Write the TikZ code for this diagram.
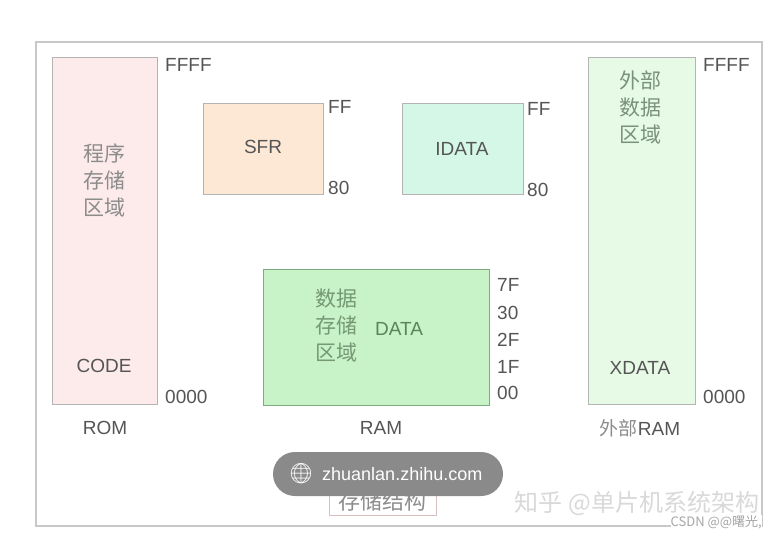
\documentclass[tikz,border=0pt]{standalone}
\usepackage{fontspec}
\setmainfont{Liberation Sans}
\newfontfamily\cjk{Noto Sans CJK SC}
\newfontfamily\emo{Noto Emoji}
\definecolor{labc}{HTML}{555555}
\definecolor{cjkc}{HTML}{8C8C8C}
\definecolor{framec}{HTML}{C8C8C8}
\definecolor{boxc}{HTML}{B4B4B4}
\definecolor{romf}{HTML}{FDEAEB}
\definecolor{sfrf}{HTML}{FDE8D6}
\definecolor{idataf}{HTML}{D4F7E8}
\definecolor{dataf}{HTML}{C8F2C8}
\definecolor{xdataf}{HTML}{E6FAE6}
\definecolor{pillf}{HTML}{8A8A8A}
\begin{document}
\begin{tikzpicture}[x=1pt,y=-1pt,
  membox/.style={draw=boxc, line width=1pt, inner sep=0, outer sep=0},
  lbl/.style={font=\fontsize{19}{19}\selectfont, text=labc, inner sep=0},
  cjklbl/.style={font=\cjk\fontsize{21}{27}\selectfont, text=cjkc, inner sep=0, align=center},
  inlbl/.style={font=\fontsize{19}{19}\selectfont, text=labc, inner sep=0}]
\useasboundingbox[fill=white] (0,0) rectangle (775,538);
% outer frame
\draw[framec, line width=1.2pt] (36,42) rectangle (762,526);
% boxes
\node[membox, fill=romf, minimum width=105pt, minimum height=347pt] (rom) at (104.5,230.5) {};
\node[membox, fill=sfrf, minimum width=120pt, minimum height=91pt] (sfr) at (263,148.5) {};
\node[membox, fill=idataf, minimum width=121pt, minimum height=91pt] (idata) at (462.5,148.5) {};
\node[membox, draw=boxc!70!green!60!gray, fill=dataf, minimum width=226pt, minimum height=136pt] (data) at (376,337) {};
\node[membox, fill=xdataf, minimum width=107pt, minimum height=347pt] (xdata) at (641.5,230.5) {};
% ROM contents
\node[cjklbl] (romcjk) at (104,180) {程序\\存储\\区域};
\node[inlbl] (code) at (104,366) {CODE};
\node[lbl, anchor=west] (romtop) at (165,65) {FFFF};
\node[lbl, anchor=west] (rombot) at (165,397) {0000};
\node[inlbl] (romname) at (105,428) {ROM};
% SFR
\node[inlbl] (sfrt) at (263,147) {SFR};
\node[lbl, anchor=west] (sfrtop) at (328,107) {FF};
\node[lbl, anchor=west] (sfrbot) at (328,188) {80};
% IDATA
\node[inlbl] (idatat) at (462,149) {IDATA};
\node[lbl, anchor=west] (idtop) at (527,109) {FF};
\node[lbl, anchor=west] (idbot) at (527,190) {80};
% DATA
\node[cjklbl, text=cjkc!80!green!70!gray] (datacjk) at (336,325) {数据\\存储\\区域};
\node[inlbl, text=labc!70!green!60!gray] (datat) at (399,329) {DATA};
\node[lbl, anchor=west] (d7f) at (497,285) {7F};
\node[lbl, anchor=west] (d30) at (497,313) {30};
\node[lbl, anchor=west] (d2f) at (497,340) {2F};
\node[lbl, anchor=west] (d1f) at (497,367) {1F};
\node[lbl, anchor=west] (d00) at (497,393) {00};
\node[inlbl] (ramname) at (381,428) {RAM};
% XDATA
\node[cjklbl, text=cjkc!85!green!60!gray] (xcjk) at (640,107) {外部\\数据\\区域};
\node[inlbl] (xdatat) at (640,368) {XDATA};
\node[lbl, anchor=west] (xtop) at (703,65) {FFFF};
\node[lbl, anchor=west] (xbot) at (703,397) {0000};
\node[inner sep=0, text=labc] (xname) at (640,428) {{\cjk\fontsize{19}{19}\selectfont\color{cjkc}外部}{\fontsize{19}{19}\selectfont RAM}};
% caption
\node[draw=red!25!gray!40, line width=0.8pt, inner sep=3pt, font=\cjk\fontsize{22}{22}\selectfont, text=gray!90, minimum width=107pt, minimum height=28pt] (cap) at (382.5,501) {存储结构};
% watermarks
\node[inner sep=0, font=\cjk\fontsize{24}{24}\selectfont, text=gray!30] (wm) at (637,503) {知乎 @单片机系统架构};
\node[inner sep=0, font=\cjk\fontsize{13}{13}\selectfont, text=gray!70, fill=white, anchor=east] (csdn) at (762,522) {CSDN @@曙光,};
% pill overlay
\node[fill=pillf, rounded corners=22pt, minimum width=230pt, minimum height=44pt, inner sep=0] (pill) at (388,474) {};
\node[inner sep=0, font=\emo\fontsize{20}{20}\selectfont, text=white] (globe) at (301,474) {🌐};
\node[inner sep=0, anchor=west, font=\fontsize{18}{18}\selectfont, text=white] (url) at (322,474) {zhuanlan.zhihu.com};
\end{tikzpicture}
\end{document}
